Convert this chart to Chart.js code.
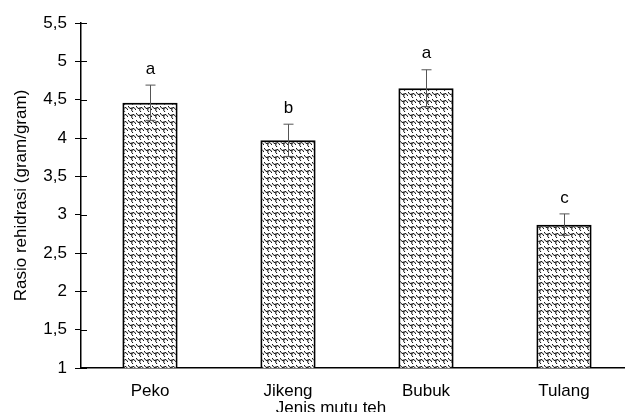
<!DOCTYPE html>
<html>
<head>
<meta charset="utf-8">
<script src="https://cdn.jsdelivr.net/npm/chart.js@4"></script>
<style>
  html, body { margin: 0; padding: 0; background: #fff; overflow: hidden; }
  #wrap { width: 633px; height: 412px; }
</style>
</head>
<body>
<div id="wrap"><canvas id="myChart"></canvas></div>
<script>
// data
var categories = ['Peko', 'Jikeng', 'Bubuk', 'Tulang'];
var ratios = [4.46, 3.97, 4.65, 2.87];
var errors = [0.23, 0.21, 0.24, 0.14];
var letters = ['a', 'b', 'a', 'c'];
var xTitle = 'Jenis mutu teh';
var yTitle = 'Rasio rehidrasi (gram/gram)';

var FONT = '"Liberation Sans", Arial, sans-serif';
var SIZE = 17;

// scale-like hatch used for the bars
function makePattern() {
  var c = document.createElement('canvas');
  c.width = 8; c.height = 7;
  var g = c.getContext('2d');
  g.fillStyle = '#fff';
  g.fillRect(0, 0, 8, 7);
  g.strokeStyle = '#000';
  g.lineWidth = 1;
  g.beginPath();
  g.moveTo(0, 1);
  g.quadraticCurveTo(2, 5, 4, 3);
  g.quadraticCurveTo(6, 1, 8, 5);
  g.stroke();
  g.beginPath();
  g.moveTo(4, 3);
  g.quadraticCurveTo(3, 6, 5, 7);
  g.stroke();
  return g.createPattern(c, 'repeat');
}

var errorBars = {
  id: 'errorBars',
  afterDatasetsDraw: function(chart) {
    var ctx = chart.ctx, xs = chart.scales.x, ys = chart.scales.y;
    ctx.save();
    ctx.strokeStyle = '#555';
    ctx.lineWidth = 1;
    ctx.fillStyle = '#000';
    ctx.font = SIZE + 'px ' + FONT;
    ctx.textAlign = 'center';
    ctx.textBaseline = 'middle';
    for (var i = 0; i < ratios.length; i++) {
      var x = Math.round(xs.getPixelForValue(i)) + 0.5;
      var top = ys.getPixelForValue(ratios[i] + errors[i]);
      var bot = ys.getPixelForValue(ratios[i] - errors[i]);
      ctx.beginPath();
      ctx.moveTo(x, top); ctx.lineTo(x, bot);
      ctx.moveTo(x - 5, top); ctx.lineTo(x + 5, top);
      ctx.moveTo(x - 5, bot); ctx.lineTo(x + 5, bot);
      ctx.stroke();
      ctx.fillText(letters[i], x, top - 16);
    }
    // inner half of the y tick marks
    ctx.strokeStyle = '#000';
    ctx.lineWidth = 1;
    ys.ticks.forEach(function(t) {
      var y = Math.round(ys.getPixelForValue(t.value)) + 0.5;
      ctx.beginPath();
      ctx.moveTo(ys.right, y); ctx.lineTo(ys.right + 6, y);
      ctx.stroke();
    });
    // x axis title, partly cut by the bottom edge
    ctx.fillText(xTitle, 331, 408);
    ctx.restore();
  }
};

var ctx = document.getElementById('myChart').getContext('2d');
var myChart = new Chart(ctx, {
  type: 'bar',
  data: {
    labels: categories,
    datasets: [{
      data: ratios,
      backgroundColor: makePattern(),
      borderColor: '#000',
      borderWidth: 2,
      barPercentage: 0.4,
      categoryPercentage: 1
    }]
  },
  options: {
    responsive: true,
    maintainAspectRatio: false,
    animation: false,
    layout: { padding: { top: 23, left: 0, right: 0, bottom: 0 } },
    plugins: { legend: { display: false }, tooltip: { enabled: false } },
    scales: {
      x: {
        grid: { display: false, drawTicks: false },
        border: { color: '#000', width: 1.5 },
        ticks: { color: '#000', padding: 13, font: { family: FONT, size: SIZE } },
        afterFit: function(s) { s.height = 44; }
      },
      y: {
        min: 1,
        max: 5.5,
        grid: { drawOnChartArea: false, drawTicks: true, tickLength: 6, color: '#000' },
        border: { color: '#000', width: 1.5 },
        ticks: {
          stepSize: 0.5,
          color: '#000',
          padding: 8,
          font: { family: FONT, size: SIZE },
          callback: function(v) { return String(v).replace('.', ','); }
        },
        title: {
          display: true,
          text: yTitle,
          color: '#000',
          font: { family: FONT, size: SIZE },
          padding: { top: 11, bottom: 4 }
        },
        afterFit: function(s) { s.width = 81; }
      }
    }
  },
  plugins: [errorBars]
});
</script>
</body>
</html>
